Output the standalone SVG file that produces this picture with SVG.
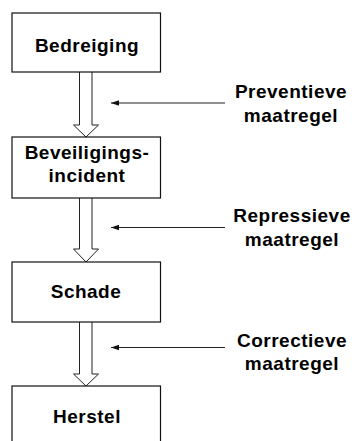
<svg xmlns="http://www.w3.org/2000/svg" width="355" height="441" viewBox="0 0 355 441">
<defs>
<style>
.box{fill:#fff;stroke:#111;stroke-width:1.2}
.t{font-family:"Liberation Sans",Arial,sans-serif;font-weight:bold;font-size:19px;letter-spacing:0.5px;fill:#000;text-anchor:middle}
.big{fill:#fff;stroke:#222;stroke-width:1}
.thin{stroke:#222;stroke-width:1.2;fill:none}
</style>
<marker id="ah" viewBox="0 0 10 10" refX="10" refY="5" markerWidth="8" markerHeight="8" markerUnits="userSpaceOnUse" orient="auto">
<path d="M0,1.5 L10,5 L0,8.5 Z" fill="#111"/>
</marker>
</defs>
<rect width="355" height="441" fill="#fff"/>
<g id="connectors">
<path class="big" d="M79.5,72 V125 H73.5 L86,137 L98.5,125 H92 V72"/>
<path class="big" d="M79.5,198 V249 H73.5 L86,262 L98.5,249 H92 V198"/>
<path class="big" d="M79.5,322 V374 H73.5 L86,386 L98.5,374 H92 V322"/>
<line class="thin" x1="225" y1="103" x2="111" y2="103" marker-end="url(#ah)"/>
<line class="thin" x1="225" y1="227.5" x2="111" y2="227.5" marker-end="url(#ah)"/>
<line class="thin" x1="225" y1="347.5" x2="111" y2="347.5" marker-end="url(#ah)"/>
</g>
<g id="bedreiging">
<rect class="box" x="12" y="13" width="148.5" height="59"/>
<text class="t" x="87" y="52">Bedreiging</text>
</g>
<g id="incident">
<rect class="box" x="12" y="137" width="148.5" height="61"/>
<text class="t" x="87" y="159">Beveiligings-</text>
<text class="t" x="87" y="182">incident</text>
</g>
<g id="schade">
<rect class="box" x="12" y="262" width="148.5" height="60"/>
<text class="t" x="86" y="298">Schade</text>
</g>
<g id="herstel">
<rect class="box" x="12" y="386" width="148.5" height="70"/>
<text class="t" x="87" y="423">Herstel</text>
</g>
<g id="preventief">
<text class="t" x="291" y="98">Preventieve</text>
<text class="t" x="291" y="122">maatregel</text>
</g>
<g id="repressief">
<text class="t" x="292" y="222">Repressieve</text>
<text class="t" x="292" y="246">maatregel</text>
</g>
<g id="correctief">
<text class="t" x="292" y="347">Correctieve</text>
<text class="t" x="292" y="370">maatregel</text>
</g>
</svg>
